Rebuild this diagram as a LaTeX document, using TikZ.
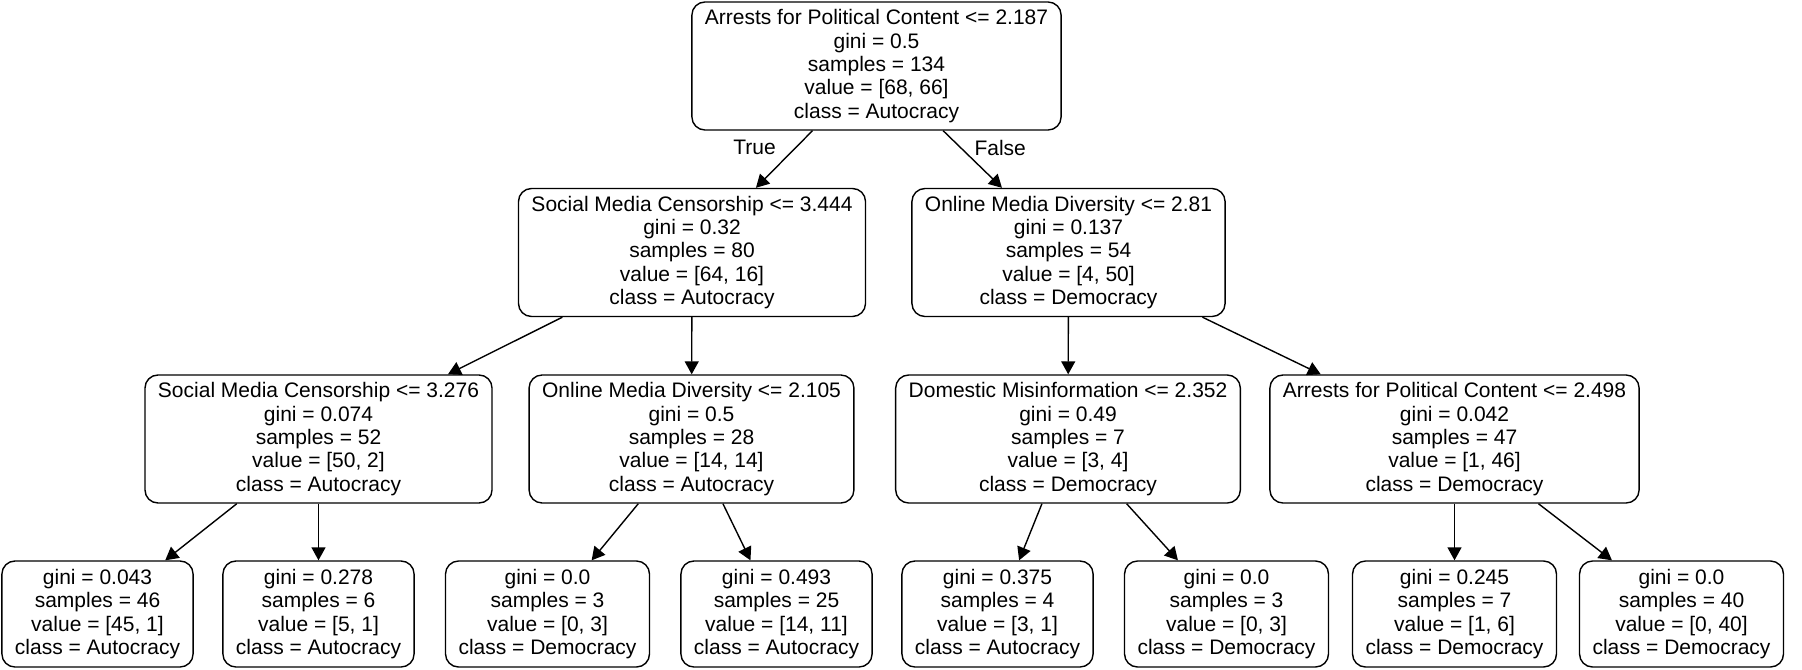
\documentclass[tikz,border=0pt]{standalone}
\usepackage{fontspec}
\setmainfont{Liberation Sans}
\usetikzlibrary{arrows.meta}

\tikzset{
  splitbox/.style={draw, rounded corners=6.5pt, line width=0.7pt, align=center,
    minimum height=64pt, inner xsep=6.5pt, inner ysep=0pt,
    font=\fontsize{10.5}{11.65}\selectfont},
  leafbox/.style={splitbox, minimum height=53pt},
  branch/.style={line width=0.7pt, -{Triangle[length=6.5pt,width=7pt]}},
  lbl/.style={inner sep=0pt, font=\fontsize{10.5}{11.65}\selectfont}
}

\begin{document}
\begin{tikzpicture}[x=0.5pt,y=0.5pt,yscale=-1]
        \useasboundingbox (0,0) rectangle (1802,669);
        
        % Root
        \node [splitbox] (root) at (876.5,66) {Arrests for Political Content <= 2.187\\gini = 0.5\\samples = 134\\value = [68, 66]\\class = Autocracy};
        
        % Depth 1
        \node [splitbox] (n1) at (692,252.5) {Social Media Censorship <= 3.444\\gini = 0.32\\samples = 80\\value = [64, 16]\\class = Autocracy};
        \node [splitbox] (n2) at (1068.5,252.5) {Online Media Diversity <= 2.81\\gini = 0.137\\samples = 54\\value = [4, 50]\\class = Democracy};
        
        % Depth 2
        \node [splitbox] (n11) at (318.5,439) {Social Media Censorship <= 3.276\\gini = 0.074\\samples = 52\\value = [50, 2]\\class = Autocracy};
        \node [splitbox] (n12) at (691.5,439) {Online Media Diversity <= 2.105\\gini = 0.5\\samples = 28\\value = [14, 14]\\class = Autocracy};
        \node [splitbox] (n21) at (1068,439) {Domestic Misinformation <= 2.352\\gini = 0.49\\samples = 7\\value = [3, 4]\\class = Democracy};
        \node [splitbox] (n22) at (1454.5,439) {Arrests for Political Content <= 2.498\\gini = 0.042\\samples = 47\\value = [1, 46]\\class = Democracy};
        
        % Leaves
        \node [leafbox] (l1) at (97.5,614) {gini = 0.043\\samples = 46\\value = [45, 1]\\class = Autocracy};
        \node [leafbox] (l2) at (318.5,614) {gini = 0.278\\samples = 6\\value = [5, 1]\\class = Autocracy};
        \node [leafbox] (l3) at (547.5,614) {gini = 0.0\\samples = 3\\value = [0, 3]\\class = Democracy};
        \node [leafbox] (l4) at (776.5,614) {gini = 0.493\\samples = 25\\value = [14, 11]\\class = Autocracy};
        \node [leafbox] (l5) at (997.5,614) {gini = 0.375\\samples = 4\\value = [3, 1]\\class = Autocracy};
        \node [leafbox] (l6) at (1226.5,614) {gini = 0.0\\samples = 3\\value = [0, 3]\\class = Democracy};
        \node [leafbox] (l7) at (1454.5,614) {gini = 0.245\\samples = 7\\value = [1, 6]\\class = Democracy};
        \node [leafbox] (l8) at (1681.5,614) {gini = 0.0\\samples = 40\\value = [0, 40]\\class = Democracy};
        
        % Straight Lines
        \draw [branch] (root) -- node [lbl, pos=0.3, left=9.5pt] {True} (n1);
        \draw [branch] (root) -- node [lbl, pos=0.3, right=6.5pt] {False} (n2);
        \draw [branch] (n1) -- (n11);
        \draw [branch] (n1) -- (n12);
        \draw [branch] (n2) -- (n21);
        \draw [branch] (n2) -- (n22);
        \draw [branch] (n11) -- (l1);
        \draw [branch] (n11) -- (l2);
        \draw [branch] (n12) -- (l3);
        \draw [branch] (n12) -- (l4);
        \draw [branch] (n21) -- (l5);
        \draw [branch] (n21) -- (l6);
        \draw [branch] (n22) -- (l7);
        \draw [branch] (n22) -- (l8);
        
\end{tikzpicture}
\end{document}
